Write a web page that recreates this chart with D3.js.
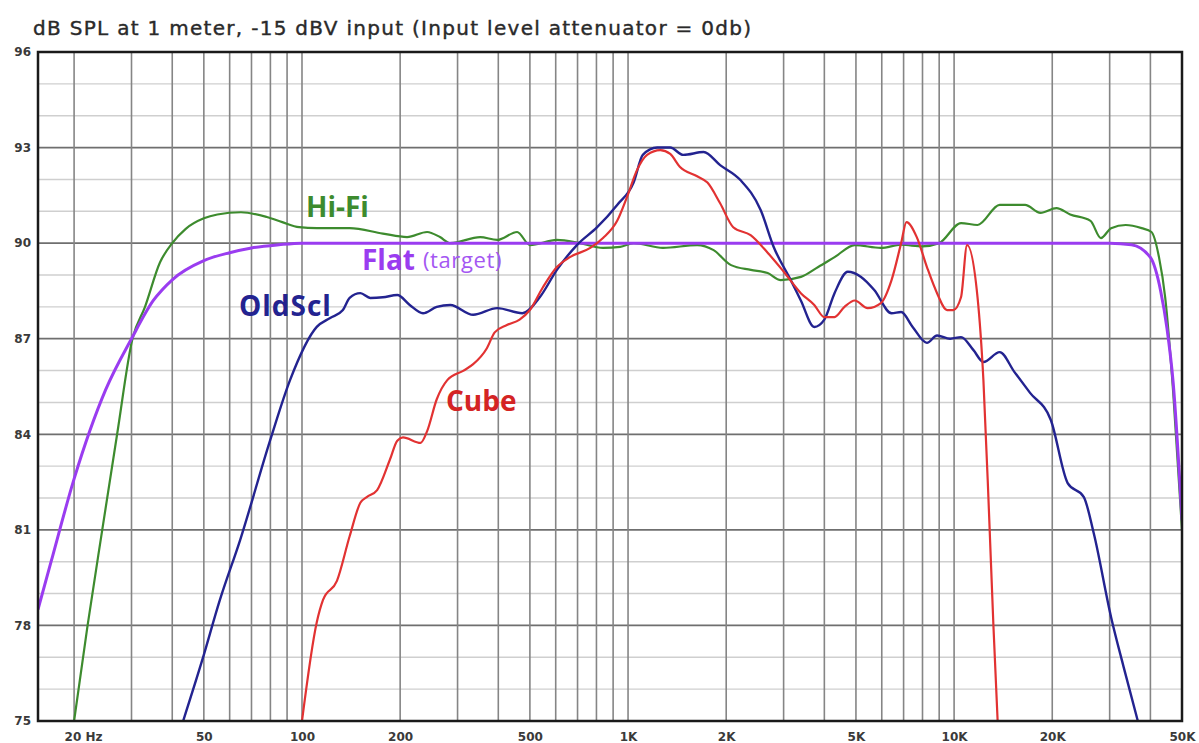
<!DOCTYPE html>
<html>
<head>
<meta charset="utf-8">
<script src="https://cdn.jsdelivr.net/npm/d3@7"></script>
<style>
  body { margin: 0; background: #fff; }
  svg { display: block; }
</style>
</head>
<body>
<div id="chart"><svg></svg></div>
<script>
// ---- data (frequency in Hz, level in dB SPL) ----
const flatFreq = [15.5, 17, 20, 25, 30, 35, 40, 50, 60, 70, 85, 100, 150, 1000, 10000, 30000, 35000, 40000, 43000, 45000, 47000, 50000];
const flatDb   = [78.5, 80.0, 82.6, 85.4, 87.0, 88.2, 88.85, 89.45, 89.7, 89.85, 89.95, 90, 90, 90, 90, 90, 89.95, 89.55, 88.5, 87.3, 85.6, 81.3];

const hifiFreq = [20, 22, 24.4, 27.1, 30.2, 33, 36.7, 40, 44, 50, 55, 65, 78, 87, 98, 111, 140, 177, 210, 242, 265, 285, 352, 397, 457, 500, 605, 711, 838, 946, 1040, 1280, 1630, 1830, 2070, 2380, 2680, 2940, 3390, 3830, 4300, 4960, 5960, 6880, 8000, 9000, 10500, 11800, 13800, 16500, 18400, 20600, 22700, 26200, 28200, 30300, 33600, 37600, 40300, 42500, 44400, 47000, 50000];
const hifiDb   = [75.0, 78.0, 81.0, 84.0, 87.0, 88.0, 89.4, 90.0, 90.45, 90.78, 90.9, 90.97, 90.82, 90.66, 90.5, 90.47, 90.47, 90.3, 90.19, 90.35, 90.19, 90.0, 90.19, 90.1, 90.35, 89.94, 90.1, 90.0, 89.85, 89.88, 90.0, 89.85, 89.94, 89.78, 89.31, 89.16, 89.06, 88.84, 88.94, 89.25, 89.56, 89.94, 89.85, 89.95, 89.9, 90.0, 90.63, 90.57, 91.2, 91.2, 90.95, 91.1, 90.9, 90.7, 90.16, 90.47, 90.57, 90.47, 90.35, 89.56, 88.3, 85.3, 81.0];

const oldFreq = [43.2, 49.4, 56, 64.6, 79.8, 91.9, 111, 122, 133.5, 140, 151, 162, 177, 196, 214, 235, 259, 285, 335, 397, 474, 536, 605, 697, 804, 926, 1040, 1110, 1228, 1347, 1477, 1705, 1916, 2211, 2551, 2797, 3156, 3388, 3725, 4000, 4298, 4721, 5183, 5690, 6429, 6880, 7462, 8254, 8866, 9728, 10500, 11450, 12300, 13800, 15300, 17100, 19800, 22300, 25000, 26800, 30300, 33100, 36600];
const oldDb   = [75.0, 76.9, 78.8, 80.68, 83.8, 85.7, 87.37, 87.65, 87.9, 88.28, 88.43, 88.28, 88.3, 88.37, 88.06, 87.8, 88.0, 88.06, 87.75, 87.96, 87.8, 88.3, 89.16, 89.94, 90.5, 91.2, 91.9, 92.77, 93.0, 93.0, 92.77, 92.86, 92.45, 91.98, 91.04, 89.88, 88.84, 88.2, 87.37, 87.6, 88.43, 89.1, 88.94, 88.53, 87.8, 87.84, 87.37, 86.87, 87.1, 87.0, 87.05, 86.65, 86.27, 86.58, 85.96, 85.3, 84.45, 82.47, 82.03, 80.9, 78.26, 76.7, 75.0];

const cubeFreq = [100, 111, 116, 128, 140, 151, 158, 170, 186, 196, 204, 231, 242, 259, 279, 313, 335, 369, 390, 425, 465, 500, 547, 605, 663, 766, 838, 926, 993, 1066, 1144, 1256, 1347, 1441, 1629, 1752, 1916, 2102, 2376, 2680, 3004, 3388, 3725, 4000, 4298, 4612, 4960, 5431, 5963, 6429, 6880, 7143, 7682, 8254, 8866, 9517, 9945, 10500, 10960, 11800, 12300, 12800, 13200, 13600];
const cubeDb   = [75.0, 78.1, 78.8, 79.4, 80.8, 81.85, 82.03, 82.25, 83.2, 83.8, 83.9, 83.73, 84.1, 85.1, 85.7, 86.0, 86.2, 86.7, 87.2, 87.43, 87.6, 87.9, 88.6, 89.25, 89.56, 89.85, 90.16, 90.7, 91.45, 92.3, 92.77, 92.92, 92.8, 92.4, 92.1, 91.9, 91.25, 90.5, 90.25, 89.7, 89.1, 88.43, 88.06, 87.68, 87.68, 88.0, 88.2, 87.96, 88.12, 88.84, 90.0, 90.66, 90.19, 89.25, 88.43, 87.9, 87.9, 88.3, 89.94, 88.3, 85.7, 81.5, 78.0, 75.0];

const xTickValues = [20, 50, 100, 200, 500, 1000, 2000, 5000, 10000, 20000, 50000];
const xTickLabels = ['20 Hz', '50', '100', '200', '500', '1K', '2K', '5K', '10K', '20K', '50K'];
const yTickValues = [96, 93, 90, 87, 84, 81, 78, 75];

const title = 'dB SPL at 1 meter, -15 dBV input (Input level attenuator = 0db)';

// ---- layout ----
const margin = {top: 52, right: 17, bottom: 22, left: 38};
const width = 1199 - margin.left - margin.right;
const height = 743 - margin.top - margin.bottom;

const root = d3.select('#chart').select('svg')
    .attr('width', 1199)
    .attr('height', 743);

const svg = root.append('g')
    .attr('transform', `translate(${margin.left},${margin.top})`);

const xScale = d3.scaleLog()
    .domain([15.5, 50000])
    .range([0, width]);

const yScale = d3.scaleLinear()
    .domain([75, 96])
    .range([height, 0]);

// title
root.append('text')
    .attr('x', 33)
    .attr('y', 35)
    .attr('font-family', 'DejaVu Sans, sans-serif')
    .attr('font-size', 20)
    .attr('letter-spacing', 1.3)
    .attr('fill', '#2a2a2a')
    .attr('stroke', '#2a2a2a')
    .attr('stroke-width', 0.4)
    .text(title);

// minor + major horizontal grid
svg.append('g')
    .selectAll('line')
    .data(d3.range(75, 97))
    .join('line')
    .attr('x1', 0)
    .attr('x2', width)
    .attr('y1', d => yScale(d))
    .attr('y2', d => yScale(d))
    .attr('stroke', d => (d - 75) % 3 === 0 ? '#6f6f6f' : '#cfcfcf')
    .attr('stroke-width', d => (d - 75) % 3 === 0 ? 1.8 : 1.4);

// vertical grid (decade lines 2..9 x)
svg.append('g')
    .selectAll('line')
    .data(xScale.ticks().filter(d => d > 15.5 && d < 50000))
    .join('line')
    .attr('x1', d => xScale(d))
    .attr('x2', d => xScale(d))
    .attr('y1', 0)
    .attr('y2', height)
    .attr('stroke', '#858585')
    .attr('stroke-width', 1.6);

// x axis labels
const xAxis = svg.append('g')
    .attr('transform', `translate(0, ${height})`)
    .call(d3.axisBottom(xScale)
        .tickValues(xTickValues)
        .tickFormat((d, i) => xTickLabels[i])
        .tickSize(0)
        .tickPadding(11));
xAxis.select('.domain').remove();
xAxis.selectAll('text')
    .attr('font-family', 'DejaVu Sans, sans-serif')
    .attr('font-size', 12)
    .attr('font-weight', 'bold')
    .attr('fill', '#3a3a3a');
xAxis.selectAll('text').filter((d, i) => i === 0)
    .attr('text-anchor', 'start')
    .attr('dx', -10);

// y axis labels
const yAxis = svg.append('g')
    .call(d3.axisLeft(yScale)
        .tickValues(yTickValues)
        .tickSize(0)
        .tickPadding(7));
yAxis.select('.domain').remove();
yAxis.selectAll('text')
    .attr('font-family', 'DejaVu Sans, sans-serif')
    .attr('font-size', 12)
    .attr('font-weight', 'bold')
    .attr('fill', '#3a3a3a');

// curves
svg.append('clipPath')
    .attr('id', 'plotClip')
  .append('rect')
    .attr('width', width)
    .attr('height', height);

const line = d3.line()
    .x(d => xScale(d[0]))
    .y(d => yScale(d[1]))
    .curve(d3.curveMonotoneX);

const series = [
    {name: 'hifi', f: hifiFreq, v: hifiDb, color: '#3d8b2e', w: 2.2},
    {name: 'flat', f: flatFreq, v: flatDb, color: '#9a3cf0', w: 3},
    {name: 'old',  f: oldFreq,  v: oldDb,  color: '#232390', w: 2.4},
    {name: 'cube', f: cubeFreq, v: cubeDb, color: '#e23232', w: 2.2}
];

svg.append('g')
    .attr('clip-path', 'url(#plotClip)')
    .selectAll('path')
    .data(series)
    .join('path')
    .attr('fill', 'none')
    .attr('stroke', d => d.color)
    .attr('stroke-width', d => d.w)
    .attr('stroke-linejoin', 'round')
    .attr('d', d => line(d.f.map((f, i) => [f, d.v[i]])));

// frame
svg.append('rect')
    .attr('width', width)
    .attr('height', height)
    .attr('fill', 'none')
    .attr('stroke', '#1a1a1a')
    .attr('stroke-width', 2.5);

// series labels
const labelFont = 'Open Sans, sans-serif';
const labels = [
    {text: 'Hi-Fi',  x: 306, y: 217, color: '#3d8b2e', ls: 0},
    {text: 'Flat',   x: 362, y: 270, color: '#9a3cf0', ls: 0},
    {text: 'OldScl', x: 239, y: 316, color: '#232390', ls: 1},
    {text: 'Cube',   x: 446, y: 411, color: '#d42424', ls: 0}
];
root.append('g')
    .selectAll('text')
    .data(labels)
    .join('text')
    .attr('x', d => d.x)
    .attr('y', d => d.y)
    .attr('font-family', labelFont)
    .attr('font-size', 28)
    .attr('font-weight', 'bold')
    .attr('letter-spacing', d => d.ls)
    .attr('fill', d => d.color)
    .text(d => d.text);

root.append('text')
    .attr('x', 423)
    .attr('y', 268)
    .attr('font-family', labelFont)
    .attr('font-size', 22)
    .attr('letter-spacing', 0.6)
    .attr('fill', '#a457f2')
    .text('(target)');
</script>
</body>
</html>
